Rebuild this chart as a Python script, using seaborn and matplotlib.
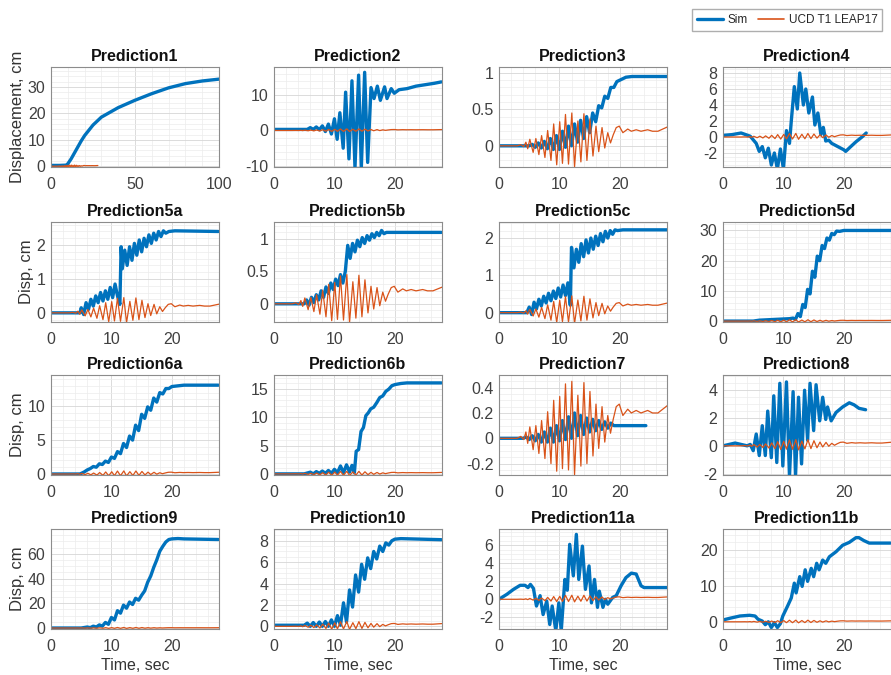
import numpy as np
import pandas as pd
import seaborn as sns
import matplotlib
matplotlib.use("Agg")
import matplotlib.pyplot as plt
from matplotlib.ticker import AutoMinorLocator
from matplotlib.lines import Line2D

# measured record (same in every panel)
ucd_t = [0, 3.0, 3.6, 4.1, 4.45, 4.75, 5.1, 5.65, 6.1, 6.6, 7.05, 7.6, 8.05, 8.6, 9.05, 9.55,
         10.05, 10.5, 11.0, 11.5, 12.05, 12.5, 13.05, 13.55, 14.05, 14.55, 15.05, 15.55, 16.05,
         16.5, 17.05, 17.5, 18.0, 18.45, 18.9, 19.4, 19.9, 20.5, 21.3, 21.9, 22.7, 23.5, 24.6,
         25.4, 26.3, 27.1, 27.9]
ucd_y = [0, 0, 0.015, -0.01, 0.05, -0.04, 0.09, -0.09, 0.1, -0.12, 0.14, -0.16, 0.21, -0.2,
         0.3, -0.26, 0.33, -0.24, 0.43, -0.25, 0.45, -0.29, 0.34, -0.22, 0.44, -0.2, 0.37,
         -0.14, 0.27, -0.08, 0.25, -0.03, 0.18, 0.04, 0.15, 0.25, 0.27, 0.18, 0.23, 0.2, 0.22,
         0.2, 0.22, 0.2, 0.2, 0.23, 0.26]

# simulations
p1_t = [0, 5, 9, 10, 12, 15, 18, 20, 25, 30, 40, 50, 60, 70, 80, 90, 100]
p1_y = [0.3, 0.3, 0.4, 0.9, 2.8, 6.2, 9.6, 11.6, 15.6, 18.6, 22.2, 25.0, 27.5, 29.7, 31.3, 32.3, 33.0]

p2_t = [0, 5.5, 6.0, 6.5, 7.0, 7.5, 8.0, 8.5, 9.0, 9.5, 10.0, 10.45, 10.9, 11.45, 11.85, 12.4,
        12.9, 13.4, 14.0, 14.45, 15.0, 15.5, 16.05, 16.55, 17.1, 17.6, 18.3, 18.7, 19.4, 19.9,
        20.7, 22.0, 23.5, 25.0, 26.5, 27.7]
p2_y = [0.3, 0.3, 0.8, 0.3, 1.0, 0.2, 1.3, -0.3, 1.8, -1.0, 3.3, -2.5, 5.0, -5.0, 10.8, -8.0,
        14.0, -10.5, 15.6, -10.5, 16.4, -9.0, 12.1, 9.0, 12.5, 8.5, 12.3, 9.0, 11.8, 10.5,
        11.5, 11.8, 12.5, 12.9, 13.3, 13.7]

p3_t = [0, 5.0, 5.5, 6.0, 6.5, 7.0, 7.5, 8.0, 8.5, 9.0, 9.5, 10.0, 10.5, 11.0, 11.5, 12.0,
        12.5, 13.0, 13.5, 14.0, 14.5, 15.0, 15.5, 16.0, 16.5, 17.0, 17.5, 18.0, 18.5, 19.0,
        19.5, 20.0, 21.0, 22.0, 24.0, 26.0, 27.9]
p3_y = [0, 0, 0.02, -0.02, 0.04, -0.03, 0.06, -0.04, 0.1, -0.05, 0.14, -0.05, 0.2, -0.02,
        0.27, 0.0, 0.3, 0.05, 0.35, 0.1, 0.4, 0.18, 0.45, 0.33, 0.55, 0.52, 0.68, 0.65, 0.8,
        0.8, 0.88, 0.9, 0.94, 0.95, 0.95, 0.95, 0.95]

p4_t = [0, 1.5, 3, 4.5, 5.5, 6, 6.5, 7, 7.5, 8, 8.5, 9, 9.5, 10, 10.5, 11, 11.3, 11.8, 12.3,
        12.7, 13.3, 13.7, 14.2, 14.8, 15.2, 15.7, 16.2, 16.6, 17, 17.5, 18, 19, 20, 20.3, 21,
        22, 23, 23.7]
p4_y = [0.2, 0.3, 0.5, 0.1, -0.8, -1.8, -1.2, -2.6, -1.4, -3.5, -2.0, -4.0, -1.5, -4.0, 0.8,
        -0.8, 2.0, 6.3, 3.5, 8.0, 4.0, 6.0, 3.0, 5.0, 1.5, 3.0, 0.3, 1.2, -0.5, -0.4, -0.8,
        -1.2, -1.6, -1.8, -1.3, -0.6, 0.0, 0.5]

p5a_t = [0, 4.8, 5.0, 5.4, 5.8, 6.2, 6.6, 7.0, 7.4, 7.8, 8.2, 8.6, 9.0, 9.4, 9.8, 10.2, 10.6,
         11.0, 11.4, 11.6, 11.8, 12.2, 12.6, 13.0, 13.4, 13.8, 14.2, 14.6, 15.0, 15.4, 15.8,
         16.2, 16.6, 17.0, 17.4, 17.8, 18.2, 18.6, 19.0, 19.5, 20.5, 27.7]
p5a_y = [0, 0, 0.15, -0.05, 0.3, 0.1, 0.4, 0.2, 0.5, 0.3, 0.6, 0.35, 0.65, 0.4, 0.75, 0.45,
         0.85, 0.5, 0.25, 1.95, 1.3, 1.85, 1.4, 1.95, 1.55, 2.05, 1.7, 2.15, 1.8, 2.2, 1.95,
         2.3, 2.05, 2.35, 2.15, 2.4, 2.25, 2.42, 2.35, 2.4, 2.42, 2.4]

p5b_t = [0, 5.0, 5.4, 5.8, 6.2, 6.6, 7.0, 7.4, 7.8, 8.2, 8.6, 9.0, 9.4, 9.8, 10.2, 10.6, 11.0,
         11.4, 11.8, 12.2, 12.6, 13.0, 13.4, 13.8, 14.2, 14.6, 15.0, 15.4, 15.8, 16.2, 16.6,
         17.0, 17.4, 17.8, 18.2, 18.6, 19.0, 20.0, 27.7]
p5b_y = [0, 0, 0.06, -0.02, 0.1, 0.02, 0.14, 0.06, 0.2, 0.1, 0.26, 0.16, 0.32, 0.22, 0.38,
         0.28, 0.45, 0.32, 0.5, 0.9, 0.7, 0.93, 0.8, 0.98, 0.88, 1.02, 0.93, 1.05, 0.98, 1.08,
         1.02, 1.1, 1.05, 1.13, 1.08, 1.1, 1.1, 1.1, 1.1]

p5c_t = [0, 4.6, 5.0, 5.4, 5.8, 6.2, 6.6, 7.0, 7.4, 7.8, 8.2, 8.6, 9.0, 9.4, 9.8, 10.2, 10.6,
         11.0, 11.4, 11.8, 12.0, 12.4, 12.8, 13.2, 13.6, 14.0, 14.4, 14.8, 15.2, 15.6, 16.0,
         16.4, 16.8, 17.2, 17.6, 18.0, 18.4, 18.8, 19.2, 19.6, 20.5, 27.9]
p5c_y = [0, 0, 0.15, -0.05, 0.28, 0.1, 0.36, 0.18, 0.44, 0.26, 0.52, 0.32, 0.58, 0.38, 0.66,
         0.42, 0.74, 0.46, 0.8, 0.2, 1.75, 1.2, 1.7, 1.35, 1.85, 1.5, 1.95, 1.6, 2.0, 1.7, 2.05,
         1.8, 2.12, 1.9, 2.18, 2.0, 2.2, 2.1, 2.22, 2.2, 2.22, 2.22]

p5d_t = [0, 5, 6, 7, 8, 9, 10, 11, 11.6, 12.0, 12.4, 12.8, 13.2, 13.6, 14.0, 14.4, 14.8, 15.2,
         15.6, 16.0, 16.4, 16.8, 17.2, 17.6, 18.0, 18.4, 18.8, 19.3, 20.0, 22.0, 27.9]
p5d_y = [0, 0, 0.3, 0.4, 0.5, 0.6, 0.7, 0.8, 1.0, 0.6, 2.5, 1.5, 5.5, 4.5, 10.5, 9.0, 16.5,
         14.5, 21.5, 20.0, 25.0, 24.0, 27.5, 26.8, 29.0, 28.6, 29.8, 29.7, 30.0, 30.0, 30.0]

p6a_t = [0, 4.8, 5.5, 6.0, 6.5, 7.0, 7.5, 8.0, 8.5, 9.0, 9.5, 10.0, 10.5, 11.0, 11.5, 12.0,
         12.5, 13.0, 13.5, 14.0, 14.5, 15.0, 15.5, 16.0, 16.5, 17.0, 17.5, 18.0, 18.5, 19.0,
         19.5, 20.0, 21.0, 22.0, 27.7]
p6a_y = [0, 0, 0.3, 0.6, 0.8, 1.1, 1.0, 1.5, 1.4, 1.9, 1.7, 2.5, 2.3, 3.3, 3.0, 4.5, 3.9, 5.6,
         5.0, 7.2, 6.4, 8.8, 8.2, 9.9, 9.4, 11.2, 10.6, 12.0, 11.8, 12.6, 12.6, 12.9, 13.0,
         13.1, 13.1]

p6b_t = [0, 5, 6, 6.5, 7, 7.5, 8, 8.5, 9, 9.5, 10, 10.5, 11, 11.5, 12, 12.5, 12.9, 13.3, 13.6,
         14.0, 14.4, 14.8, 15.2, 15.6, 16.0, 16.5, 17.0, 17.5, 18.0, 18.5, 19.0, 19.5, 20.0,
         21.0, 22.0, 27.7]
p6b_y = [0, 0, 0.3, 0.0, 0.4, 0.1, 0.5, 0.1, 0.6, 0.1, 0.8, 0.2, 1.4, 0.2, 1.6, 0.3, 1.5, 0.2,
         4.0, 4.3, 7.5, 8.2, 10.3, 10.8, 11.5, 11.8, 12.6, 13.5, 13.8, 14.6, 15.0, 15.6, 15.8,
         16.0, 16.1, 16.1]

p7_t = [0, 4.0, 4.5, 5.0, 5.5, 6.0, 6.5, 7.0, 7.5, 8.0, 8.5, 9.0, 9.5, 10.0, 10.5, 11.0, 11.5,
        12.0, 12.5, 13.0, 13.5, 14.0, 14.5, 15.0, 15.5, 16.0, 16.5, 17.0, 17.5, 18.0, 18.5,
        19.0, 20.0, 22.0, 24.3]
p7_y = [0, 0, 0.01, -0.01, 0.02, -0.02, 0.03, -0.03, 0.05, -0.03, 0.08, -0.03, 0.1, -0.02,
        0.14, -0.01, 0.17, 0.0, 0.2, 0.02, 0.18, 0.03, 0.16, 0.05, 0.15, 0.06, 0.14, 0.07,
        0.13, 0.08, 0.12, 0.1, 0.1, 0.1, 0.1]

p8_t = [0, 1, 2, 3, 4, 4.5, 5.0, 5.5, 6.0, 6.5, 7.0, 7.4, 8.0, 8.4, 8.9, 9.4, 9.9, 10.5, 11.0,
        11.6, 12.0, 12.5, 13.0, 13.5, 14.0, 14.4, 15.0, 15.4, 16.0, 16.5, 17.0, 17.3, 17.9,
        18.7, 19.8, 20.9, 21.7, 22.5, 23.6]
p8_y = [0.0, 0.1, 0.2, 0.1, 0.0, 0.1, -0.35, 0.85, -0.7, 1.45, -0.7, 2.5, -0.85, 3.6, -1.2,
        4.5, -1.45, 4.6, -2.2, 3.9, -2.2, 3.5, -1.3, 4.0, 0.4, 4.5, 1.1, 4.4, 1.8, 3.5, 1.9,
        2.8, 1.8, 2.4, 2.8, 3.1, 2.95, 2.7, 2.6]

p9_t = [0, 5.0, 6.0, 6.5, 7.0, 7.5, 8.0, 8.5, 9.0, 9.5, 10.0, 10.5, 11.0, 11.5, 12.0, 12.5,
        13.0, 13.5, 14.0, 14.5, 15.0, 15.5, 16.0, 16.5, 17.0, 17.5, 18.0, 18.5, 19.0, 19.5,
        20.0, 21.0, 22.0, 27.7]
p9_y = [0, 0, 0.8, 0.3, 1.5, 0.8, 2.5, 1.5, 4.5, 3.0, 8.5, 6.5, 14.0, 12.0, 18.5, 16.0, 21.0,
        19.0, 24.0, 22.5, 26.5, 30.0, 37.0, 42.0, 49.0, 55.0, 62.0, 66.0, 69.5, 71.5, 72.0,
        72.3, 72.0, 71.5]

p10_t = [0, 5.0, 5.5, 6.0, 6.5, 7.0, 7.5, 8.0, 8.5, 9.0, 9.5, 10.0, 10.5, 11.0, 11.5, 12.0,
         12.5, 13.0, 13.5, 14.0, 14.5, 15.0, 15.5, 16.0, 16.5, 17.0, 17.5, 18.0, 18.5, 19.0,
         19.5, 20.0, 21.0, 27.7]
p10_y = [0.1, 0.1, 0.3, 0.0, 0.35, 0.0, 0.4, 0.0, 0.45, 0.0, 0.6, 0.0, 1.0, 0.1, 2.2, 0.4,
         3.4, 1.8, 4.8, 3.2, 5.8, 4.4, 6.4, 5.4, 7.0, 6.3, 7.5, 7.0, 7.8, 7.6, 8.0, 8.15, 8.2,
         8.1]

p11a_t = [0, 1.3, 2.4, 3.5, 4.3, 4.8, 5.2, 5.7, 6.2, 6.8, 7.3, 7.9, 8.4, 8.8, 9.4, 9.9, 10.3,
          10.9, 11.3, 11.7, 12.3, 12.8, 13.2, 13.8, 14.3, 14.9, 15.3, 15.8, 16.3, 16.6, 17.2,
          17.6, 18.0, 18.8, 19.4, 20.2, 21.0, 21.9, 22.7, 23.5, 24.0, 27.9]
p11a_y = [0, 0.55, 1.1, 1.55, 1.55, 1.3, 1.65, 1.2, -0.75, 0.4, -1.7, -0.2, -2.8, -0.75, -3.5,
          -0.4, -3.5, 2.2, 1.0, 6.1, 2.6, 7.2, 2.2, 5.9, 1.1, 3.7, -0.4, 2.2, -0.9, 0.9, -0.9,
          0.0, -0.55, 0.2, 0.4, 1.5, 2.4, 2.9, 2.8, 1.5, 1.3, 1.3]

p11b_t = [0, 1.2, 2.8, 4.4, 5.3, 5.8, 6.5, 7.0, 7.5, 8.0, 8.5, 9.0, 9.5, 9.9, 10.7, 11.3, 11.8,
          12.1, 12.7, 13.1, 13.6, 14.0, 14.6, 15.0, 15.5, 15.9, 16.5, 17.0, 17.6, 18.7, 19.8,
          20.9, 22.0, 22.5, 23.3, 24.2, 27.7]
p11b_y = [0.5, 1.0, 1.6, 1.8, 1.6, 0.7, 0.2, -0.8, 0.0, -1.6, -0.2, -1.6, -0.5, 1.6, 4.4, 6.6,
          10.7, 8.0, 12.5, 9.8, 14.4, 11.2, 14.8, 12.5, 16.2, 14.4, 17.1, 16.2, 18.0, 19.4,
          21.2, 22.0, 23.3, 23.3, 22.5, 21.8, 21.8]

titles = ["Prediction1", "Prediction2", "Prediction3", "Prediction4",
          "Prediction5a", "Prediction5b", "Prediction5c", "Prediction5d",
          "Prediction6a", "Prediction6b", "Prediction7", "Prediction8",
          "Prediction9", "Prediction10", "Prediction11a", "Prediction11b"]
sims = [(p1_t, p1_y), (p2_t, p2_y), (p3_t, p3_y), (p4_t, p4_y),
        (p5a_t, p5a_y), (p5b_t, p5b_y), (p5c_t, p5c_y), (p5d_t, p5d_y),
        (p6a_t, p6a_y), (p6b_t, p6b_y), (p7_t, p7_y), (p8_t, p8_y),
        (p9_t, p9_y), (p10_t, p10_y), (p11a_t, p11a_y), (p11b_t, p11b_y)]
yticks = [[0, 10, 20, 30], [-10, 0, 10], [0, 0.5, 1], [-2, 0, 2, 4, 6, 8],
          [0, 1, 2], [0, 0.5, 1], [0, 1, 2], [0, 10, 20, 30],
          [0, 5, 10], [0, 5, 10, 15], [-0.2, 0, 0.2, 0.4], [-2, 0, 2, 4],
          [0, 20, 40, 60], [0, 2, 4, 6, 8], [-2, 0, 2, 4, 6], [0, 10, 20]]
ylims = [(-0.3, 37.6), (-10.3, 17.9), (-0.29, 1.08), (-3.75, 8.75),
         (-0.27, 2.68), (-0.28, 1.26), (-0.25, 2.43), (-0.3, 32.8),
         (-0.15, 14.6), (-0.2, 17.5), (-0.29, 0.5), (-2.1, 5.1),
         (-0.8, 80.0), (-0.25, 9.1), (-3.3, 7.8), (-2.0, 25.7)]

BLUE = "#0072BD"
ORANGE = "#D95319"

sns.set_theme(style="white")
plt.rcParams["font.family"] = ["Liberation Sans", "DejaVu Sans"]

W, H = 891, 675
fig = plt.figure(figsize=(W / 100, H / 100), dpi=100)

col_left = [51, 274, 499, 723]
row_top = [67, 222, 375, 529]
aw, ah = 168, 100

for i, name in enumerate(titles):
    r, c = divmod(i, 4)
    ax = fig.add_axes([col_left[c] / W, 1 - (row_top[r] + ah) / H, aw / W, ah / H])
    st, sy = sims[i]
    sns.lineplot(x=st, y=sy, ax=ax, color=BLUE, linewidth=2.4, estimator=None, sort=False)
    sns.lineplot(x=ucd_t, y=ucd_y, ax=ax, color=ORANGE, linewidth=0.9, estimator=None, sort=False)

    if i == 0:
        ax.set_xlim(0, 100)
        ax.set_xticks([0, 50, 100])
    else:
        ax.set_xlim(0, 27.8)
        ax.set_xticks([0, 10, 20])
    ax.set_ylim(*ylims[i])
    ax.set_yticks(yticks[i])
    ax.set_yticklabels([f"{v:g}" for v in yticks[i]])
    ax.xaxis.set_minor_locator(AutoMinorLocator())
    ax.yaxis.set_minor_locator(AutoMinorLocator())
    ax.grid(which="major", color="#d6d6d6", linewidth=0.6)
    ax.grid(which="minor", color="#ececec", linewidth=0.5)
    ax.set_axisbelow(True)
    for s in ax.spines.values():
        s.set_color("#8c8c8c")
        s.set_linewidth(0.8)
    ax.tick_params(which="both", direction="in", labelsize=11.5, labelcolor="#404040",
                   color="#8c8c8c", length=2.5, width=0.6, pad=4)
    ax.tick_params(axis="x", pad=7)
    ax.tick_params(which="minor", length=0)
    ax.set_title(name, fontsize=11.5, fontweight="bold", pad=4, color="#111111")
    ax.set_xlabel("Time, sec" if r == 3 else "", fontsize=11.5, color="#333333", labelpad=3)
    if c == 0:
        ax.set_ylabel("Displacement, cm" if r == 0 else "Disp, cm", fontsize=12,
                      color="#333333", labelpad=2)
    else:
        ax.set_ylabel("")

handles = [Line2D([], [], color=BLUE, linewidth=2.4),
           Line2D([], [], color=ORANGE, linewidth=1.2)]
fig.legend(handles, ["Sim", "UCD T1 LEAP17"], loc="upper right", bbox_to_anchor=(0.997, 0.995),
           ncol=2, fontsize=8.5, frameon=True, fancybox=False, edgecolor="#9a9a9a",
           handlelength=2.2, handletextpad=0.4, columnspacing=0.9, borderpad=0.4)

fig.savefig("out.png", dpi=100, facecolor="white")
